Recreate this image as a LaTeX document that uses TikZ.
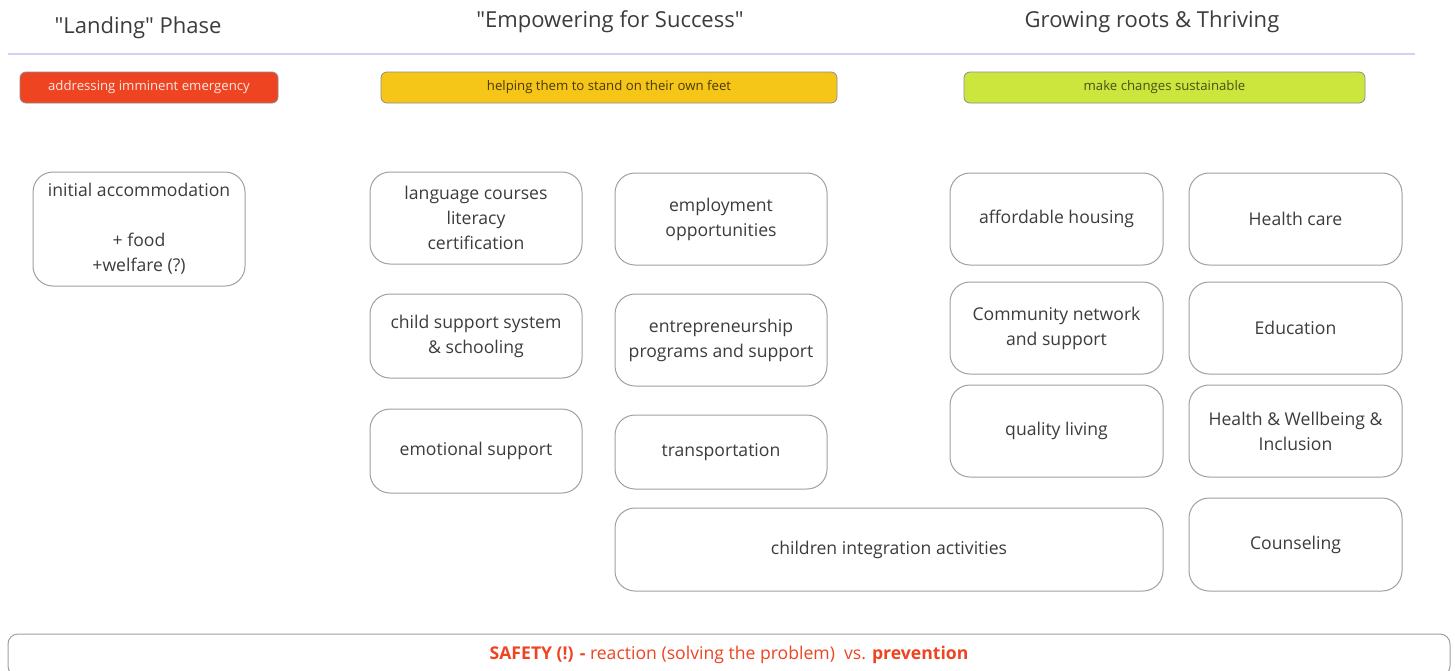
\documentclass[tikz,border=0pt]{standalone}
\usepackage{fontspec}
\setmainfont{Open Sans}
\definecolor{txt}{HTML}{3C3C3C}
\definecolor{bordergray}{HTML}{A0A0A0}
\definecolor{redbar}{HTML}{EE4422}
\definecolor{yelbar}{HTML}{F5C518}
\definecolor{grnbar}{HTML}{CDE63D}
\definecolor{purpline}{HTML}{D9CCF7}
\definecolor{safered}{HTML}{EE4422}
\begin{document}
\begin{tikzpicture}[x=0.5pt,y=-0.5pt,
  card/.style={draw=bordergray, line width=0.5pt, rounded corners=10pt, fill=white,
    align=center, text=txt, font=\fontsize{8.8}{12.5}\selectfont, inner sep=2pt,
    minimum width=106pt, minimum height=46pt},
  bar/.style={draw=black!45, line width=0.4pt, rounded corners=3pt, align=center,
    font=\fontsize{6.6}{8}\selectfont, minimum height=15.5pt, inner sep=0pt},
  title/.style={text=txt, font=\fontsize{11}{13}\selectfont, inner sep=0pt}]
\useasboundingbox (0,0) rectangle (1455,670);
\fill[white] (0,0) rectangle (1455,670);
% titles
\node[title] (t1) at (138,28) {\textquotedbl Landing\textquotedbl{} Phase};
\node[title] (t2) at (610,22) {\textquotedbl Empowering for Success\textquotedbl};
\node[title] (t3) at (1152,22) {Growing roots \& Thriving};
\coordinate (l1) at (8,54);
\coordinate (l2) at (1415,54);
\draw[purpline, line width=1pt] (l1) -- (l2);
% bars
\node[bar, fill=redbar, text=white!88!redbar, minimum width=129pt] (b1) at (149,87.5) {addressing imminent emergency};
\node[bar, fill=yelbar, text=black!70!yelbar, minimum width=228pt] (b2) at (609,87.5) {helping them to stand on their own feet};
\node[bar, fill=grnbar, text=black!65!grnbar, minimum width=200.5pt] (b3) at (1164.5,87.5) {make changes sustainable};
% landing
\node[card, minimum height=57pt] (init) at (139,229) {initial accommodation\\[\baselineskip]+ food\\+welfare (?)};
% empowering
\node[card] (lang) at (476,218) {language courses\\literacy\\certification};
\node[card] (empl) at (721,219) {employment\\opportunities};
\node[card, minimum height=42pt] (child) at (476,336) {child support system\\\& schooling};
\node[card] (entre) at (721,340) {entrepreneurship\\programs and support};
\node[card, minimum height=42pt] (emot) at (476,451) {emotional support};
\node[card, minimum height=37pt] (trans) at (721,452) {transportation};
\node[card, minimum width=274pt, minimum height=41.5pt] (kids) at (889,549.5) {children integration activities};
% growing
\node[card, minimum width=106.5pt] (afford) at (1056.5,219) {affordable housing};
\node[card, minimum width=106.5pt] (hcare) at (1295.5,219) {Health care};
\node[card, minimum width=106.5pt] (comm) at (1056.5,328) {Community network\\and support};
\node[card, minimum width=106.5pt] (edu) at (1295.5,328) {Education};
\node[card, minimum width=106.5pt] (qual) at (1056.5,431) {quality living};
\node[card, minimum width=106.5pt] (hwb) at (1295.5,431) {Health \& Wellbeing \&\\Inclusion};
\node[card, minimum width=106.5pt, minimum height=46.5pt] (couns) at (1295.5,544.5) {Counseling};
% safety
\node[card, minimum width=721pt, minimum height=21pt, text=safered, rounded corners=5pt] (safety) at (729,655)
  {\textbf{SAFETY (!) -} reaction (solving the problem)\ \ vs. \textbf{prevention}};
\end{tikzpicture}
\end{document}
